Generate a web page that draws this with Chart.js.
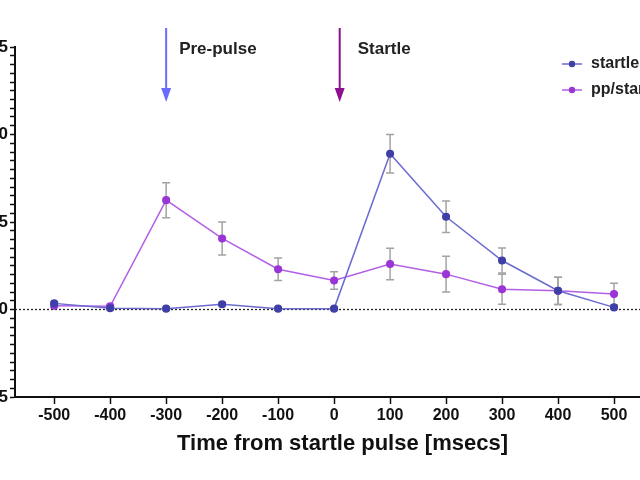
<!DOCTYPE html>
<html>
<head>
<meta charset="utf-8">
<script src="https://cdn.jsdelivr.net/npm/chart.js@4"></script>
<style>
  html, body { margin: 0; padding: 0; background: #fff; overflow: hidden; }
  #wrap { position: absolute; left: -30px; top: 0; width: 720px; height: 480px; }
</style>
</head>
<body>
<div id="wrap"><canvas id="chart"></canvas></div>
<script>
// time points (msecs from startle pulse)
const times = [-500, -400, -300, -200, -100, 0, 100, 200, 300, 400, 500];
const xTicks = [-500, -400, -300, -200, -100, 0, 100, 200, 300, 400, 500];
const yMajor = [-5, 0, 5, 10, 15];

// series
const startle    = [0.35, 0.07, 0.05, 0.30, 0.05, 0.05, 8.90, 5.30, 2.80, 1.07, 0.12];
const startleErr = [0.10, 0.08, 0.08, 0.10, 0.08, 0.08, 1.10, 0.90, 0.72, 0.78, 0.08];
const pp         = [0.22, 0.18, 6.25, 4.06, 2.30, 1.66, 2.60, 2.02, 1.16, 1.07, 0.88];
const ppErr      = [0.10, 0.10, 1.00, 0.94, 0.64, 0.50, 0.90, 1.02, 0.86, 0.78, 0.62];

const seriesNames = ["startle", "pp/startle"];
const markerTimes = [-300, 10];
const markerLabels = ["Pre-pulse", "Startle"];

const FONT = "Arial, 'Liberation Sans', sans-serif";

const extras = {
  id: "extras",
  beforeDatasetsDraw(chart) {
    const { ctx, chartArea } = chart;
    const x = chart.scales.x, y = chart.scales.y;
    ctx.save();
    // dotted zero line
    const y0 = y.getPixelForValue(0);
    ctx.strokeStyle = "#222";
    ctx.lineWidth = 1.3;
    ctx.setLineDash([2, 2]);
    ctx.beginPath();
    ctx.moveTo(chartArea.left, y0);
    ctx.lineTo(chartArea.right, y0);
    ctx.stroke();
    ctx.setLineDash([]);

    // error bars
    ctx.strokeStyle = "#a3a3a3";
    ctx.lineWidth = 1.5;
    [[startle, startleErr], [pp, ppErr]].forEach(([vals, errs]) => {
      times.forEach((t, i) => {
        const px = x.getPixelForValue(t);
        const top = y.getPixelForValue(vals[i] + errs[i]);
        const bot = y.getPixelForValue(vals[i] - errs[i]);
        ctx.beginPath();
        ctx.moveTo(px, top); ctx.lineTo(px, bot);
        ctx.moveTo(px - 4, top); ctx.lineTo(px + 4, top);
        ctx.moveTo(px - 4, bot); ctx.lineTo(px + 4, bot);
        ctx.stroke();
      });
    });
    ctx.restore();
  },
  afterDraw(chart) {
    const { ctx, chartArea } = chart;
    const x = chart.scales.x;
    ctx.save();

    // arrows with labels
    const arrowColors = ["#6b6bff", "#8b0f8f"];
    const textGap = [13, 18];
    markerTimes.forEach((t, i) => {
      const px = x.getPixelForValue(t);
      const top = chartArea.top - 19;
      const tip = chartArea.top + 55;
      ctx.strokeStyle = arrowColors[i];
      ctx.fillStyle = arrowColors[i];
      ctx.lineWidth = 2;
      ctx.beginPath();
      ctx.moveTo(px, top);
      ctx.lineTo(px, tip - 12);
      ctx.stroke();
      ctx.beginPath();
      ctx.moveTo(px - 5, tip - 14);
      ctx.lineTo(px + 5, tip - 14);
      ctx.lineTo(px, tip);
      ctx.closePath();
      ctx.fill();

      ctx.fillStyle = "#222";
      ctx.font = "bold 17px " + FONT;
      ctx.textBaseline = "middle";
      ctx.textAlign = "left";
      ctx.fillText(markerLabels[i], px + textGap[i], chartArea.top + 2);
    });

    // legend inside the plot, top right
    chart.data.datasets.forEach((ds, i) => {
      const ly = chartArea.top + 17 + i * 26;
      const lx = chartArea.right - 108;
      ctx.strokeStyle = ds.borderColor;
      ctx.lineWidth = 1.5;
      ctx.beginPath();
      ctx.moveTo(lx, ly);
      ctx.lineTo(lx + 20, ly);
      ctx.stroke();
      ctx.fillStyle = ds.pointBackgroundColor;
      ctx.beginPath();
      ctx.arc(lx + 10, ly, 3.2, 0, Math.PI * 2);
      ctx.fill();
      ctx.fillStyle = "#222";
      ctx.font = "bold 16px " + FONT;
      ctx.textBaseline = "middle";
      ctx.fillText(ds.label, lx + 29, ly);
    });
    ctx.restore();
  }
};

const toPoints = vals => times.map((t, i) => ({ x: t, y: vals[i] }));

new Chart(document.getElementById("chart"), {
  type: "line",
  data: {
    datasets: [
      {
        label: seriesNames[0],
        data: toPoints(startle),
        borderColor: "#6b6bd0",
        backgroundColor: "#3f3fa8",
        pointBackgroundColor: "#3f3fa8",
        pointBorderColor: "#3f3fa8",
        pointRadius: 3.3,
        borderWidth: 1.5,
        tension: 0
      },
      {
        label: seriesNames[1],
        data: toPoints(pp),
        borderColor: "#b25fe6",
        backgroundColor: "#9a35d6",
        pointBackgroundColor: "#9a35d6",
        pointBorderColor: "#9a35d6",
        pointRadius: 3.3,
        borderWidth: 1.5,
        tension: 0
      }
    ]
  },
  options: {
    responsive: true,
    maintainAspectRatio: false,
    animation: false,
    layout: { padding: { top: 47, right: 20, bottom: 0, left: 0 } },
    plugins: {
      legend: { display: false },
      tooltip: { enabled: false }
    },
    scales: {
      x: {
        type: "linear",
        min: -570,
        max: 600,
        afterBuildTicks: s => { s.ticks = xTicks.map(v => ({ value: v })); },
        afterFit: s => { s.height = 83; },
        grid: { drawOnChartArea: false, drawTicks: true, tickLength: 7, color: "#111", tickWidth: 1.5 },
        border: { color: "#111", width: 2 },
        ticks: {
          autoSkip: false,
          maxRotation: 0,
          padding: 2,
          color: "#111",
          font: { family: FONT, size: 16, weight: "bold" }
        },
        title: {
          display: true,
          text: "Time from startle pulse [msecs]",
          color: "#111",
          font: { family: FONT, size: 22, weight: "bold" },
          padding: { top: 0, bottom: 23 }
        }
      },
      y: {
        min: -5,
        max: 15,
        afterBuildTicks: s => {
          const t = [];
          for (let v = -5; v <= 15; v += 0.5) t.push({ value: v });
          s.ticks = t;
        },
        afterFit: s => { s.width = 45; },
        grid: { drawOnChartArea: false, drawTicks: true, tickLength: 5, color: "#111", tickWidth: 1.5 },
        border: { color: "#111", width: 2 },
        ticks: {
          autoSkip: false,
          padding: 2,
          color: "#111",
          font: { family: FONT, size: 17, weight: "bold" },
          callback: v => (yMajor.includes(v) ? String(v) : "")
        }
      }
    }
  },
  plugins: [extras]
});
</script>
</body>
</html>
